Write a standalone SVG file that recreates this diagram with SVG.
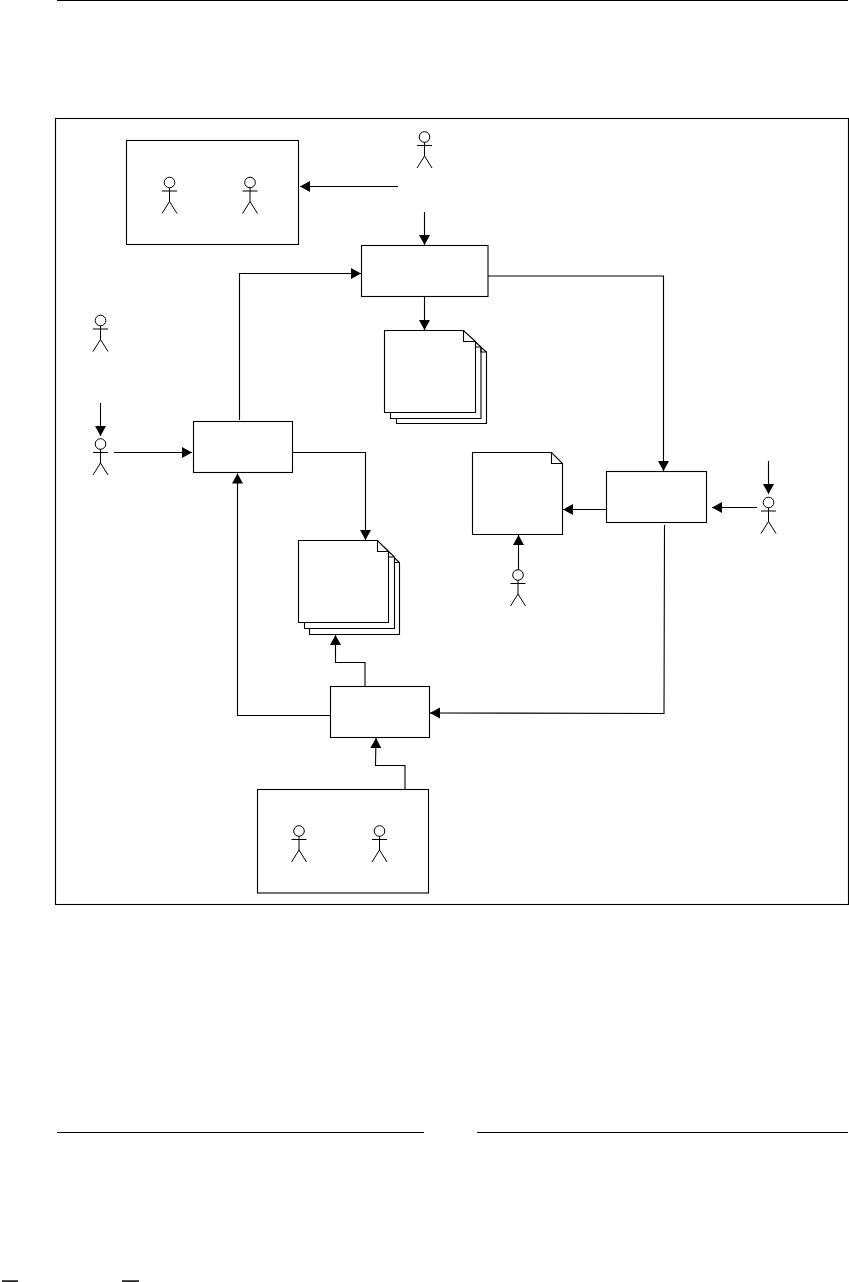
<svg xmlns="http://www.w3.org/2000/svg" width="849" height="1282" viewBox="0 0 849 1282">
<style>
.s{fill:#fff;stroke:#000;stroke-width:1.1}
.l{fill:none;stroke:#000;stroke-width:1.1}
.c{fill:none;stroke:#000;stroke-width:1.1;marker-end:url(#a)}
</style>
<defs>
<marker id="a" markerUnits="userSpaceOnUse" markerWidth="11" markerHeight="12" refX="10" refY="5.5" orient="auto"><path d="M0 0L10 5.5L0 11Z" fill="#000"/></marker>
<g id="actor"><circle cx="0" cy="0" r="5.3" fill="#fff" stroke="#000"/><path d="M0 5.3V19M-7.5 8.5H7.5M-7.5 31L0 19L7.5 31" fill="none" stroke="#000"/></g>
</defs>
<rect width="849" height="1282" fill="#fff"/>
<path class="l" d="M57 0.5H848M57 1132.5H424M477 1132.5H848"/>
<path d="M2 1280.3H18V1282H2ZM122 1280.3H139V1282H122Z" fill="#222"/>
<rect id="frame" class="l" x="55.5" y="118.5" width="793" height="786"/>
<g id="group-top"><rect class="s" x="126.5" y="140.5" width="172" height="104"/><use href="#actor" x="169.5" y="182.5"/><use href="#actor" x="250" y="182.5"/></g>
<g id="group-bottom"><rect class="s" x="257.5" y="789.5" width="171" height="103.5"/><use href="#actor" x="299" y="831"/><use href="#actor" x="379.5" y="831"/></g>
<g id="actor-top"><use href="#actor" x="424.5" y="137"/></g>
<g id="actor-left-1"><use href="#actor" x="100.5" y="320.5"/></g>
<g id="actor-left-2"><use href="#actor" x="100.5" y="444"/></g>
<g id="actor-right"><use href="#actor" x="768.5" y="502.5"/></g>
<g id="actor-doc"><use href="#actor" x="518" y="575"/></g>
<g id="box-top"><rect class="s" x="361.5" y="245.5" width="126.5" height="51"/></g>
<g id="box-left"><rect class="s" x="193.5" y="421.5" width="99" height="51"/></g>
<g id="box-right"><rect class="s" x="606.5" y="471.5" width="100" height="51"/></g>
<g id="box-bottom"><rect class="s" x="330.5" y="686.5" width="99" height="51"/></g>
<g id="doc-single"><path class="s" d="M472.5 452.5H551.5L562.5 463.5V534.5H472.5Z"/><path class="l" d="M551.5 452.5V463.5H562.5"/></g>
<g id="doc-stack-top">
<path class="s" d="M396.5 342.5H475.5L486.5 352V423.5H396.5Z"/>
<path class="s" d="M390.5 336.5H469.5L481 347V418.5H390.5Z"/>
<path class="s" d="M384.5 330.5H463.5L475.5 341.5V412.5H384.5Z"/>
<path class="l" d="M463.5 330.5V341.5H475.5M475.5 341.5V347H481M481 347V352H486.5"/>
</g>
<g id="doc-stack-bottom">
<path class="s" d="M309.5 552.5H388.5L399.5 562.5V634.5H309.5Z"/>
<path class="s" d="M304.5 546.5H383.5L394.5 557V628.5H304.5Z"/>
<path class="s" d="M298.5 540.5H377.5L388.5 551.5V622.5H298.5Z"/>
<path class="l" d="M377.5 540.5V551.5H388.5M388.5 551.5V557H394.5M394.5 557V562.5H399.5"/>
</g>
<g id="connectors">
<path class="c" d="M398 186.5H300"/>
<path class="c" d="M424.5 212V245"/>
<path class="c" d="M424.5 296.5V330"/>
<path class="c" d="M239.5 420V273.5H361"/>
<path class="c" d="M100.5 403V436"/>
<path class="c" d="M114 452.5H192"/>
<path class="c" d="M292.5 452.5H365.5V540"/>
<path class="c" d="M488 276H663.5V471"/>
<path class="c" d="M757 507.5H712"/>
<path class="c" d="M768.5 461V494"/>
<path class="c" d="M606 509.5H563"/>
<path class="c" d="M518.5 570V535"/>
<path class="c" d="M664.5 525L664 713.5L430 713"/>
<path class="c" d="M330 715.5H237.5V473.5"/>
<path class="c" d="M365 686V662.5H335.5V635"/>
<path class="c" d="M405 789V765.5H375.5L376 738"/>
</g>
</svg>
